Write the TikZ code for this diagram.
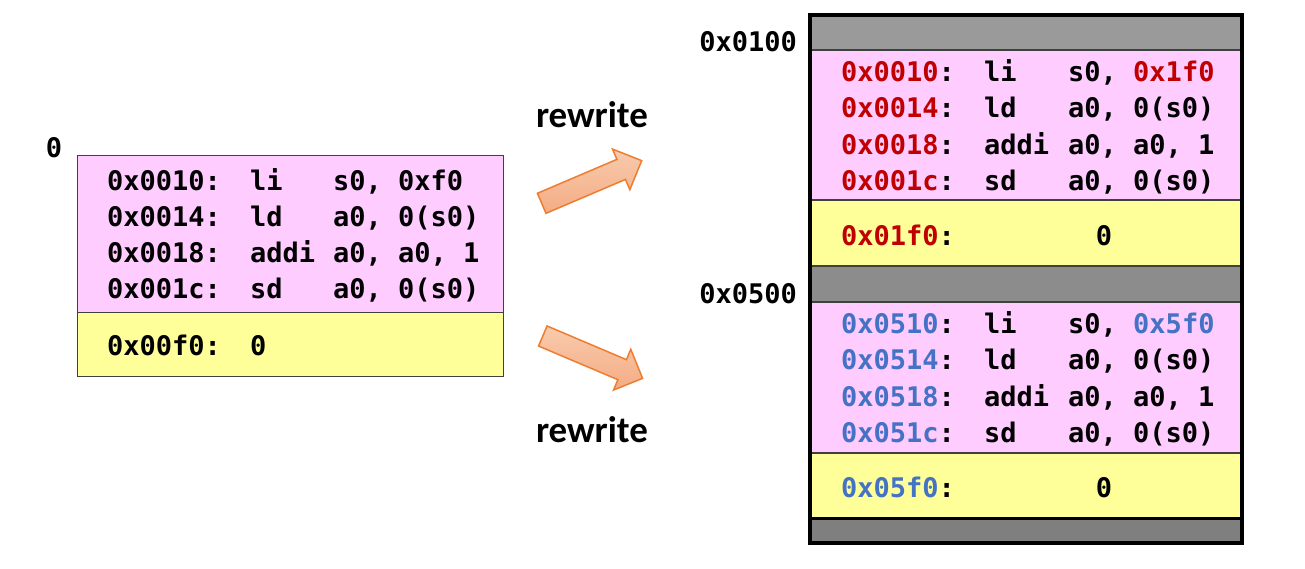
\documentclass[tikz,border=0pt]{standalone}
\usepackage{fontspec}
\setmonofont{DejaVu Sans Mono}
\setsansfont{Carlito}
\definecolor{pinkc}{HTML}{FFCCFF}
\definecolor{yellowc}{HTML}{FFFF99}
\definecolor{redc}{HTML}{C00000}
\definecolor{bluec}{HTML}{4472C4}
\definecolor{grayA}{HTML}{9A9A9A}
\definecolor{grayB}{HTML}{8C8C8C}
\definecolor{grayC}{HTML}{7F7F7F}
\definecolor{divc}{HTML}{404040}
\definecolor{arrowline}{HTML}{ED7D31}
\definecolor{arrowlight}{HTML}{F8CBAD}
\definecolor{arrowdark}{HTML}{F4AC84}
\newcommand{\codefont}{\fontsize{27}{30}\selectfont\ttfamily\bfseries}
\begin{document}
\begin{tikzpicture}[x=1pt,y=-1pt,
  code/.style={font=\codefont, inner sep=0pt, anchor=west, text height=19.5pt, text depth=0pt},
  codec/.style={code, anchor=center},
  addrlabel/.style={code, anchor=east},
  rewritelabel/.style={font=\fontsize{37}{40}\selectfont\sffamily\bfseries, inner sep=0pt},
  thindiv/.style={draw=divc, line width=1.5pt},
  blockarrow/.style={draw=arrowline, line width=1.5pt, line join=miter, top color=arrowlight, bottom color=arrowdark}
]
\useasboundingbox (0,0) rectangle (1305,568);

% ---------- left memory ----------
\fill[pinkc] (77,155) rectangle (503,312);
\fill[yellowc] (77,312) rectangle (503,376);
\draw[divc, line width=1pt] (77,155) rectangle (503,376);
\draw[divc, line width=1pt] (77,312) -- (503,312);

\node[codec] (zero) at (54,148) {0};

\node[code] (la1) at (107,181) {0x0010:};
\node[code] (lo1) at (250,181) {li};
\node[code] (lr1) at (333,181) {s0, 0xf0};
\node[code] (la2) at (107,217) {0x0014:};
\node[code] (lo2) at (250,217) {ld};
\node[code] (lr2) at (333,217) {a0, 0(s0)};
\node[code] (la3) at (107,253) {0x0018:};
\node[code] (lo3) at (250,253) {addi};
\node[code] (lr3) at (333,253) {a0, a0, 1};
\node[code] (la4) at (107,289) {0x001c:};
\node[code] (lo4) at (250,289) {sd};
\node[code] (lr4) at (333,289) {a0, 0(s0)};
\node[code] (lda) at (107,346) {0x00f0:};
\node[code] (ldv) at (250,346) {0};

% ---------- right memory ----------
\fill[grayA] (810,15) rectangle (1242,50);
\fill[pinkc] (810,50) rectangle (1242,200);
\fill[yellowc] (810,200) rectangle (1242,266);
\fill[grayB] (810,266) rectangle (1242,302);
\fill[pinkc] (810,302) rectangle (1242,453);
\fill[yellowc] (810,453) rectangle (1242,518);
\fill[grayC] (810,518) rectangle (1242,543);
\draw[thindiv] (810,50) -- (1242,50);
\draw[thindiv] (810,200) -- (1242,200);
\draw[thindiv] (810,266) -- (1242,266);
\draw[thindiv] (810,302) -- (1242,302);
\draw[thindiv] (810,453) -- (1242,453);
\draw[black, line width=3.5pt] (810,518.5) -- (1242,518.5);
\draw[black, line width=4pt] (810,15) rectangle (1242,543);

\node[addrlabel] (lab100) at (797,42) {0x0100};
\node[addrlabel] (lab500) at (797,294) {0x0500};

\node[code] (ra1) at (841,72) {\textcolor{redc}{0x0010}:};
\node[code] (ro1) at (984,72) {li};
\node[code] (rr1) at (1068,72) {s0, \textcolor{redc}{0x1f0}};
\node[code] (ra2) at (841,108) {\textcolor{redc}{0x0014}:};
\node[code] (ro2) at (984,108) {ld};
\node[code] (rr2) at (1068,108) {a0, 0(s0)};
\node[code] (ra3) at (841,145) {\textcolor{redc}{0x0018}:};
\node[code] (ro3) at (984,145) {addi};
\node[code] (rr3) at (1068,145) {a0, a0, 1};
\node[code] (ra4) at (841,181) {\textcolor{redc}{0x001c}:};
\node[code] (ro4) at (984,181) {sd};
\node[code] (rr4) at (1068,181) {a0, 0(s0)};
\node[code] (rda) at (841,236) {\textcolor{redc}{0x01f0}:};
\node[codec] (rdv) at (1104,236) {0};

\node[code] (ba1) at (841,324) {\textcolor{bluec}{0x0510}:};
\node[code] (bo1) at (984,324) {li};
\node[code] (br1) at (1068,324) {s0, \textcolor{bluec}{0x5f0}};
\node[code] (ba2) at (841,360) {\textcolor{bluec}{0x0514}:};
\node[code] (bo2) at (984,360) {ld};
\node[code] (br2) at (1068,360) {a0, 0(s0)};
\node[code] (ba3) at (841,397) {\textcolor{bluec}{0x0518}:};
\node[code] (bo3) at (984,397) {addi};
\node[code] (br3) at (1068,397) {a0, a0, 1};
\node[code] (ba4) at (841,433) {\textcolor{bluec}{0x051c}:};
\node[code] (bo4) at (984,433) {sd};
\node[code] (br4) at (1068,433) {a0, 0(s0)};
\node[code] (bda) at (841,488) {\textcolor{bluec}{0x05f0}:};
\node[codec] (bdv) at (1104,488) {0};

% ---------- arrows ----------
\node[rewritelabel] (rw1) at (592,115) {rewrite};
\node[rewritelabel] (rw2) at (592,430) {rewrite};

\begin{scope}[shift={(541.7,203.3)}, rotate=23.1]
  \path[blockarrow] (0,-10.9) -- (86.4,-10.9) -- (86.4,-22.1) -- (108.7,0)
     -- (86.4,22.1) -- (86.4,10.9) -- (0,10.9) -- cycle;
\end{scope}
\begin{scope}[shift={(542.8,336)}, rotate=-23]
  \path[blockarrow] (0,-10.9) -- (86.2,-10.9) -- (86.2,-22.1) -- (108.4,0)
     -- (86.2,22.1) -- (86.2,10.9) -- (0,10.9) -- cycle;
\end{scope}
\end{tikzpicture}
\end{document}
